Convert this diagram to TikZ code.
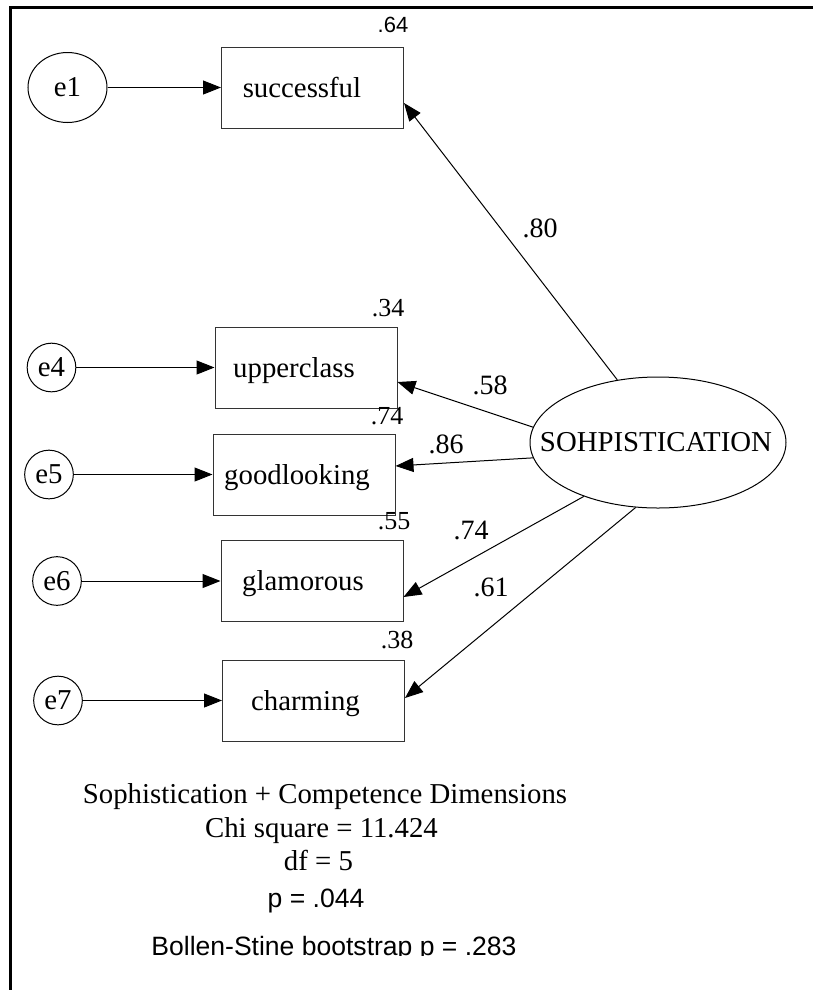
\documentclass[tikz,border=0pt]{standalone}
\usepackage{fontspec}
\setmainfont{Liberation Serif}
\newfontfamily\sansfam{Liberation Sans}
\usetikzlibrary{shapes.geometric,arrows.meta,calc}

\begin{document}
\begin{tikzpicture}[x=0.75pt,y=-0.75pt,
  every node/.style={inner sep=0pt},
  mainfont/.style={font=\fontsize{21.6}{25}\selectfont},
  coef/.style={font=\fontsize{21}{25}\selectfont},
  rsq/.style={font=\fontsize{19.5}{23}\selectfont},
  sanstext/.style={font=\sansfam\fontsize{19.9}{24}\selectfont},
  sanssmall/.style={font=\sansfam\fontsize{16.5}{20}\selectfont},
  obs/.style={draw=black!80, line width=0.75pt, minimum width=136.5pt, minimum height=60.75pt},
  itemtext/.style={mainfont, text height=14.6pt, text depth=0pt},
  errc/.style={draw, circle, line width=0.75pt, minimum size=36.5pt, mainfont},
  latent/.style={draw, ellipse, line width=0.75pt},
  link/.style={line width=0.75pt, -{Triangle[length=13.5pt,width=10.5pt]}}
]
\useasboundingbox (0,0) rectangle (813,990);

% frame
\draw[line width=1.6pt] (10.5,990) -- (10.5,7.5) -- (813,7.5);

% observed indicators
\node[obs, label={[itemtext, xshift=-7.9pt]center:successful}] (succ) at (312.5,87.5) {};
\node[obs, label={[itemtext, xshift=-9pt]center:upperclass}] (upper) at (306,367.5) {};
\node[obs, label={[itemtext, xshift=-5.25pt]center:goodlooking}] (good) at (304,474.5) {};
\node[obs, label={[itemtext, xshift=-6.75pt]center:glamorous}] (glam) at (312,581) {};
\node[obs, label={[itemtext, xshift=-6pt]center:charming}] (charm) at (313.5,700.5) {};

% error terms
\node[latent, minimum width=59.25pt, minimum height=52.5pt, mainfont] (e1) at (67.5,87.5) {e1};
\node[errc] (e4) at (51.5,367.5) {e4};
\node[errc] (e5) at (49,474.5) {e5};
\node[errc] (e6) at (57,581) {e6};
\node[errc] (e7) at (58,700.5) {e7};

% latent factor
\node[latent, minimum width=192pt, minimum height=98.25pt,
      label={[mainfont, xshift=-1.5pt]center:SOHPISTICATION}] (soph) at (658,442.5) {};

% error paths
\draw[link] (e1.east) -- (succ.west);
\draw[link] (e4.east) -- (upper.west);
\draw[link] (e5.east) -- (good.west);
\draw[link] (e6.east) -- (glam.west);
\draw[link] (e7.east) -- (charm.west);

% factor loadings
\draw[link] (soph.123.3) -- ($(succ.east)+(0,15.5)$);
\draw[link] (soph.173.5) -- ($(upper.east)+(0,14.5)$);
\draw[link] (soph.187) -- ($(good.east)+(0,-8.5)$);
\draw[link] (soph.216) -- ($(glam.east)+(0,16)$);
\draw[link] (soph.251.4) -- ($(charm.east)+(0,-2.5)$);

% squared multiple correlations
\node[sanssmall] (r1) at (393,24.5) {.64};
\node[rsq] (r4) at (388,308.5) {.34};
\node[rsq] (r5) at (387,416.5) {.74};
\node[rsq] (r6) at (394,521) {.55};
\node[rsq] (r7) at (397,640) {.38};

% standardized loadings
\node[coef] (l1) at (540,228) {.80};
\node[coef] (l4) at (490,385) {.58};
\node[coef] (l5) at (446,444) {.86};
\node[coef] (l6) at (471,530) {.74};
\node[coef] (l7) at (491,587) {.61};

% fit summary
\node[mainfont, anchor=base] (title) at (325,803) {Sophistication + Competence Dimensions};
\node[mainfont, anchor=base] (chi) at (321.5,837) {Chi square = 11.424};
\node[mainfont, anchor=base] (df) at (318.5,870) {df = 5};
\node[sanstext, anchor=base] (pval) at (316,907) {p = .044};
\begin{scope}
  \clip (0,0) rectangle (813,955);
  \node[sanstext, anchor=base] (boot) at (334,955) {Bollen-Stine bootstrap p = .283};
\end{scope}
\end{tikzpicture}
\end{document}
